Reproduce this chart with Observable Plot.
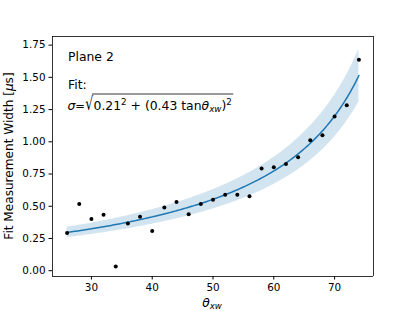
<!DOCTYPE html>
<html><head><meta charset="utf-8">
<script src="https://cdn.jsdelivr.net/npm/d3@7"></script>
<script src="https://cdn.jsdelivr.net/npm/@observablehq/plot@0.6"></script>
<style>body{margin:0;background:#fff} #chart svg{font-family:"DejaVu Sans",sans-serif}</style>
</head><body><div id="chart"></div>
<script>
// measured points
const theta = [26,28,30,32,34,36,38,40,42,44,46,48,50,52,54,56,58,60,62,64,66,68,70,72,74];
const widthUs = [0.293,0.518,0.401,0.435,0.033,0.367,0.419,0.308,0.491,0.533,0.437,0.518,0.551,0.590,0.590,0.577,0.792,0.802,0.828,0.880,1.012,1.050,1.196,1.283,1.636];
// fit parameters as printed on the chart
const fitA = 0.21, fitB = 0.43, bandFrac = 0.135;
const xTicks = [30,40,50,60,70];
const yTicks = [0,0.25,0.5,0.75,1.0,1.25,1.5,1.75];
const xDomain = [23.6, 76.4];
const yDomain = [-0.045, 1.817];
const xLabel = {main: "θ", sub: "xw"};
const yLabel = "Fit Measurement Width [";
const annotation = ["Plane 2", "Fit:"];

const points = theta.map((t,i)=>({t, w: widthUs[i]}));
const fit = t => Math.sqrt(fitA*fitA + Math.pow(fitB*Math.tan(t*Math.PI/180),2));
const curve = d3.range(theta[0], theta[theta.length-1]+1e-9, 0.25).map(t=>{const f=fit(t);return {t, f, lo:f*(1-bandFrac), hi:f*(1+bandFrac)};});

const blue = "#1f77b4";
const plot = Plot.plot({
  width: 415, height: 311,
  marginLeft: 52, marginRight: 42, marginTop: 36, marginBottom: 35,
  style: {fontFamily: "DejaVu Sans", fontSize: "10.4px", color: "black", background: "white"},
  x: {domain: xDomain},
  y: {domain: yDomain},
  marks: [
    Plot.areaY(curve, {x: "t", y1: "lo", y2: "hi", fill: blue, fillOpacity: 0.2}),
    Plot.line(curve, {x: "t", y: "f", stroke: blue, strokeWidth: 1.5}),
    Plot.dot(points, {x: "t", y: "w", r: 2, fill: "black", stroke: "none"}),
    Plot.axisX({ticks: xTicks, tickSize: 3.5, tickPadding: 3.5, tickFormat: d3.format("d"), label: null, fontSize: 10.4}),
    Plot.axisY({ticks: yTicks, tickSize: 3.5, tickPadding: 3.5, tickFormat: d3.format(".2f"), label: null, fontSize: 10.4}),
    Plot.ruleX(xDomain, {stroke: "black", strokeWidth: 0.8}),
    Plot.ruleY(yDomain, {stroke: "black", strokeWidth: 0.8})
  ]
});
document.getElementById("chart").appendChild(plot);

const svg = d3.select(plot);
const ff = "DejaVu Sans";
const fs = 12.4, fsSmall = 8.7;
const txt = (x, y) => svg.append("text").attr("x", x).attr("y", y).attr("text-anchor", "start").attr("font-size", fs).attr("font-family", ff);
// annotations
txt(68, 60.5).text(annotation[0]);
txt(68, 89).text(annotation[1]);
const by = 109.5;
txt(67.5, by).attr("font-style", "italic").text("σ");
txt(75.2, by).attr("font-size", 11.5).text("=");
svg.append("text").attr("transform", `translate(85.3,${by}) scale(1,1.45)`).attr("text-anchor", "start").attr("font-size", fs).attr("font-family", ff).text("√");
const f = txt(93.5, by);
f.append("tspan").text(fitA.toFixed(2));
f.append("tspan").attr("font-size", fsSmall).attr("dy", -5).text("2");
f.append("tspan").attr("dy", 5).text(" + (" + fitB.toFixed(2) + " tan");
f.append("tspan").attr("font-style", "italic").text("θ");
f.append("tspan").attr("font-style", "italic").attr("font-size", fsSmall).attr("dy", 2.5).text("xw");
f.append("tspan").attr("dy", -2.5).text(")");
f.append("tspan").attr("font-size", fsSmall).attr("dy", -5).text("2");
// overline for radical
const fb = f.node().getBBox();
svg.append("line").attr("x1", 92).attr("x2", fb.x + fb.width + 1.5).attr("y1", 94).attr("y2", 94).attr("stroke", "black").attr("stroke-width", 0.8);

// x label
const xl = svg.append("text").attr("x", 212).attr("y", 306.5).attr("text-anchor", "middle").attr("font-size", 12.3).attr("font-family", ff);
xl.append("tspan").attr("font-style", "italic").text(xLabel.main);
xl.append("tspan").attr("font-style", "italic").attr("font-size", 8.6).attr("dy", 2.4).text(xLabel.sub);
// y label
const yl = svg.append("text").attr("transform", "translate(13,156) rotate(-90)").attr("text-anchor", "middle").attr("font-size", 12.1).attr("font-family", ff);
yl.append("tspan").text(yLabel);
yl.append("tspan").attr("font-style", "italic").text("μ");
yl.append("tspan").text("s]");
</script></body></html>
